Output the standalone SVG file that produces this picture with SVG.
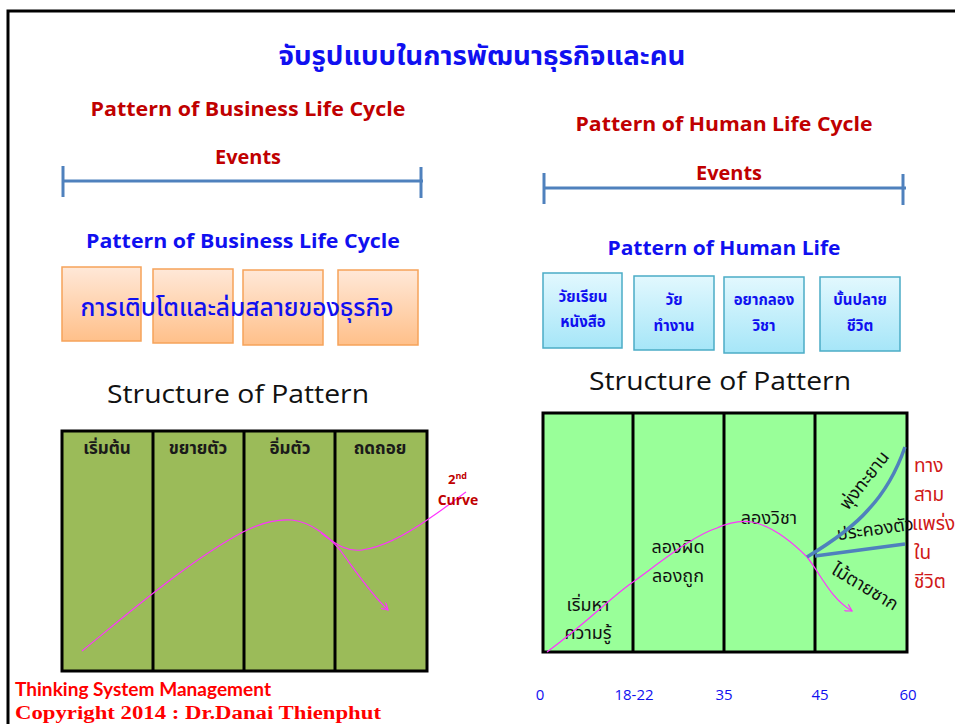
<svg xmlns="http://www.w3.org/2000/svg" width="955" height="724" viewBox="0 0 955 724">
<style>
.th{font-family:"Noto Sans Thai","Noto Sans","DejaVu Sans",sans-serif}
.lat{font-family:"Open Sans","Liberation Sans",sans-serif;font-weight:bold}
.red{fill:#C00000}
.blue{fill:#1010F0}
.hdr{font-size:17px;font-weight:bold;fill:#1a1a1a;text-anchor:middle}
.box{font-size:15px;font-weight:bold;fill:#1010F0;text-anchor:middle}
.rt{font-size:18px;fill:#111;text-anchor:middle}
.ax{font-family:"Open Sans","Liberation Sans",sans-serif;font-size:15px;fill:#1010F0;text-anchor:middle}
.tri{font-size:19px;fill:#D01818}
.grid{stroke:#000;stroke-width:3;fill:none}
.ob{stroke:#F6A35A;stroke-width:1.5;fill:url(#og)}
.cb{stroke:#4BACC6;stroke-width:1.5;fill:url(#cg)}
.ev{stroke:#4F81BD;stroke-width:3;fill:none}
.pk{stroke:#FF33FF;stroke-width:1.2;fill:none}
.bl{stroke:#4F81BD;stroke-width:3.5;fill:none}
</style>
<defs>
<linearGradient id="og" x1="0" y1="0" x2="0" y2="1"><stop offset="0" stop-color="#FFE8D8"/><stop offset="1" stop-color="#FFC08A"/></linearGradient>
<linearGradient id="cg" x1="0" y1="0" x2="0" y2="1"><stop offset="0" stop-color="#E2F8FE"/><stop offset="1" stop-color="#A6E6F8"/></linearGradient>
<marker id="ah" markerWidth="8" markerHeight="8" refX="7" refY="4" orient="auto" markerUnits="userSpaceOnUse"><path d="M0,0 L7,4 L0,8" fill="none" stroke="#FF33FF" stroke-width="1.2"/></marker>
</defs>
<rect width="955" height="724" fill="#fff"/>
<path d="M8,724 L8,11 L955,11" fill="none" stroke="#000" stroke-width="3"/>

<g id="title"><text class="th blue" x="482" y="65" font-size="27" font-weight="bold" text-anchor="middle" textLength="407" lengthAdjust="spacingAndGlyphs">จับรูปแบบในการพัฒนาธุรกิจและคน</text></g>

<g id="left-head">
<text class="lat red" x="248" y="116" font-size="19" text-anchor="middle" textLength="315" lengthAdjust="spacingAndGlyphs">Pattern of Business Life Cycle</text>
<text class="lat red" x="248" y="164" font-size="19" text-anchor="middle" textLength="66" lengthAdjust="spacingAndGlyphs">Events</text>
<g class="ev"><line x1="63" y1="181" x2="423" y2="181"/><line x1="63" y1="166" x2="63" y2="197"/><line x1="421" y1="167" x2="421" y2="198"/></g>
<text class="lat blue" x="243" y="248" font-size="19" text-anchor="middle" textLength="314" lengthAdjust="spacingAndGlyphs">Pattern of Business Life Cycle</text>
</g>

<g id="right-head">
<text class="lat red" x="724" y="131" font-size="19" text-anchor="middle" textLength="297" lengthAdjust="spacingAndGlyphs">Pattern of Human Life Cycle</text>
<text class="lat red" x="729" y="180" font-size="19" text-anchor="middle" textLength="66" lengthAdjust="spacingAndGlyphs">Events</text>
<g class="ev"><line x1="544" y1="188" x2="906" y2="188"/><line x1="544" y1="173" x2="544" y2="204"/><line x1="903" y1="174" x2="903" y2="205"/></g>
<text class="lat blue" x="724" y="255" font-size="19" text-anchor="middle" textLength="233" lengthAdjust="spacingAndGlyphs">Pattern of Human Life</text>
</g>

<g id="orange-boxes">
<rect class="ob" x="62" y="267" width="79" height="74"/>
<rect class="ob" x="153" y="269" width="80" height="74"/>
<rect class="ob" x="243" y="270" width="80" height="75"/>
<rect class="ob" x="338" y="270" width="80" height="75"/>
<text class="th blue" x="237" y="316" font-size="24" font-weight="500" text-anchor="middle" textLength="313" lengthAdjust="spacingAndGlyphs">การเติบโตและล่มสลายของธุรกิจ</text>
</g>

<g id="cyan-boxes">
<g id="c1"><rect class="cb" x="543" y="273" width="79" height="75"/><text class="th box" x="583" y="302">วัยเรียน</text><text class="th box" x="583" y="327">หนังสือ</text></g>
<g id="c2"><rect class="cb" x="634" y="276" width="80" height="74"/><text class="th box" x="674" y="305">วัย</text><text class="th box" x="674" y="331">ทำงาน</text></g>
<g id="c3"><rect class="cb" x="724" y="277" width="80" height="76"/><text class="th box" x="764" y="305">อยากลอง</text><text class="th box" x="764" y="331">วิชา</text></g>
<g id="c4"><rect class="cb" x="820" y="277" width="80" height="74"/><text class="th box" x="860" y="305">บั้นปลาย</text><text class="th box" x="860" y="331">ชีวิต</text></g>
</g>

<text x="238" y="403" font-family="Open Sans,Liberation Sans,sans-serif" font-size="25" fill="#111" text-anchor="middle" textLength="262" lengthAdjust="spacingAndGlyphs">Structure of Pattern</text>
<text x="720" y="390" font-family="Open Sans,Liberation Sans,sans-serif" font-size="25" fill="#111" text-anchor="middle" textLength="262" lengthAdjust="spacingAndGlyphs">Structure of Pattern</text>

<g id="left-grid">
<rect x="62" y="431" width="365" height="240" fill="#9BBB59"/>
<g class="grid"><rect x="62" y="431" width="365" height="240"/><line x1="153" y1="431" x2="153" y2="671"/><line x1="244" y1="431" x2="244" y2="671"/><line x1="335" y1="431" x2="335" y2="671"/></g>
<text class="th hdr" x="107" y="454">เริ่มต้น</text>
<text class="th hdr" x="198" y="454">ขยายตัว</text>
<text class="th hdr" x="290" y="454">อิ่มตัว</text>
<text class="th hdr" x="380" y="454">ถดถอย</text>
</g>

<g id="right-grid">
<rect x="543" y="413" width="364" height="239" fill="#99FF99"/>
<g class="grid"><rect x="543" y="413" width="364" height="239"/><line x1="633" y1="413" x2="633" y2="652"/><line x1="724" y1="413" x2="724" y2="652"/><line x1="815" y1="413" x2="815" y2="652"/></g>
<text class="th rt" x="588" y="611">เริ่มหา</text>
<text class="th rt" x="588" y="639">ความรู้</text>
<text class="th rt" x="678" y="553">ลองผิด</text>
<text class="th rt" x="678" y="582">ลองถูก</text>
<text class="th rt" x="769" y="524">ลองวิชา</text>
<text class="th rt" transform="translate(869,484) rotate(-52)">พุ่งทะยาน</text>
<text class="th rt" font-size="17" transform="translate(876,535) rotate(-8)">ประคองตัว</text>
<text class="th rt" transform="translate(862,592) rotate(31)">ไม้ตายซาก</text>
</g>

<g id="connectors">
<path class="pk" d="M82,651 C130,612 190,560 243,532 C262,522 278,519 292,520 C312,522 330,538 340,550 C355,570 370,593 388,610" marker-end="url(#ah)"/>
<path class="pk" d="M321,533 C335,543 345,552 362,550 C385,547 410,532 430,518 C445,508 455,500 466,492"/>
<path class="pk" d="M547,652 C590,620 610,598 633,582 C670,555 695,535 717,528 C730,522 740,520 752,522 C772,526 790,540 807,557 C820,573 830,598 852,611" marker-end="url(#ah)"/>
<path class="bl" d="M807,557 C835,540 855,525 868,510 C885,492 897,470 905,447"/>
<path class="bl" d="M815,556 L905,544"/>
</g>

<g id="left-labels">
<text class="lat red" x="448" y="484" font-size="13">2<tspan font-size="9" dy="-5">nd</tspan></text>
<text class="lat red" x="458" y="505" font-size="14" text-anchor="middle">Curve</text>
</g>

<g id="trident">
<text class="th tri" x="914" y="472">ทาง</text>
<text class="th tri" x="914" y="501">สาม</text>
<text class="th tri" x="912" y="530" font-size="17">แพร่ง</text>
<text class="th tri" x="914" y="559">ใน</text>
<text class="th tri" x="914" y="588">ชีวิต</text>
</g>

<g id="axis">
<text class="ax" x="540" y="700">0</text>
<text class="ax" x="634" y="700">18-22</text>
<text class="ax" x="724" y="700">35</text>
<text class="ax" x="820" y="700">45</text>
<text class="ax" x="908" y="700">60</text>
</g>

<g id="footer">
<text x="15" y="696" font-family="Lato,Open Sans,sans-serif" font-weight="bold" font-size="18" fill="#FF0000" textLength="256" lengthAdjust="spacingAndGlyphs">Thinking System Management</text>
<text x="15" y="719" font-family="Liberation Serif,serif" font-weight="bold" font-size="18" fill="#FF0000" textLength="366" lengthAdjust="spacingAndGlyphs">Copyright 2014 : Dr.Danai Thienphut</text>
</g>
</svg>
